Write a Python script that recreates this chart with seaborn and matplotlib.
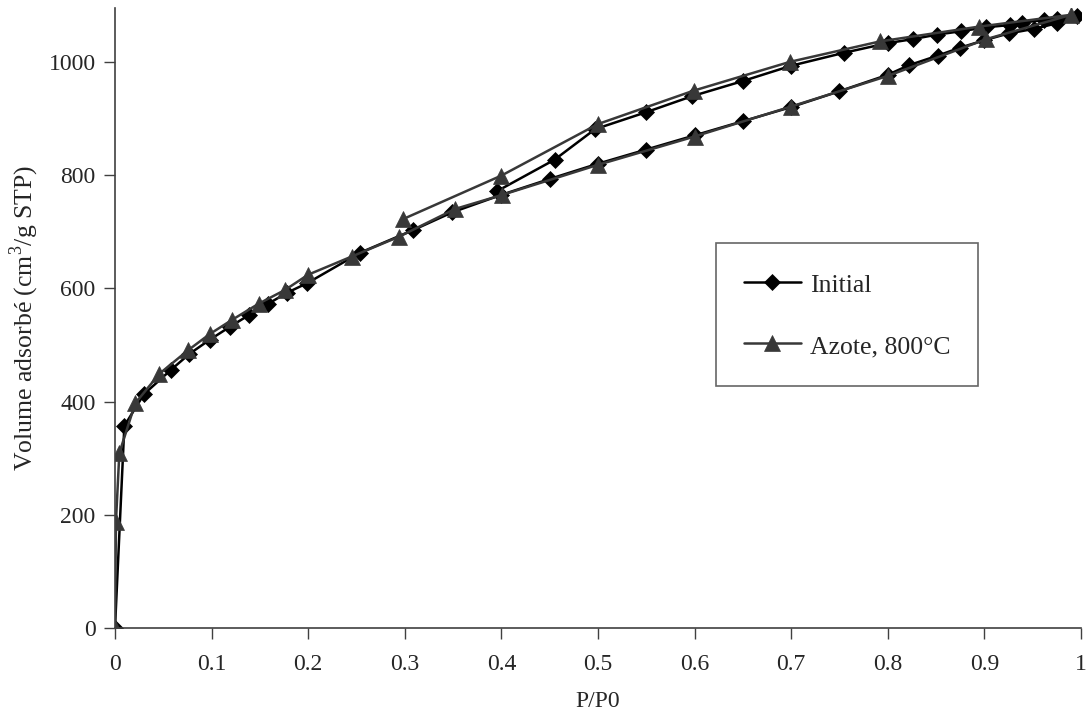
import numpy as np
import pandas as pd
import matplotlib
matplotlib.use('Agg')
import matplotlib.pyplot as plt
import seaborn as sns

# Initial sample: adsorption branch then desorption branch
init_p = [0.0, 0.0097, 0.030, 0.058, 0.077, 0.098, 0.119, 0.139, 0.158, 0.178,
          0.199, 0.254, 0.309, 0.349, 0.400, 0.450, 0.500, 0.550, 0.600, 0.650,
          0.700, 0.750, 0.800, 0.822, 0.852, 0.875, 0.900, 0.925, 0.951, 0.975,
          0.996,
          0.975, 0.962, 0.939, 0.927, 0.902, 0.876, 0.851, 0.826, 0.800, 0.755,
          0.700, 0.650, 0.597, 0.550, 0.497, 0.455, 0.395]
init_v = [0, 357, 413, 456, 484, 509, 532, 553, 572, 592,
          609, 663, 703, 734, 765, 793, 820, 845, 870, 895,
          920, 948, 977, 994, 1011, 1025, 1038, 1050, 1058, 1068,
          1080,
          1076, 1074, 1069, 1065, 1061, 1054, 1048, 1040, 1033, 1016,
          993, 966, 939, 911, 881, 827, 771]

# Azote, 800°C
azote_p = [0.0, 0.001, 0.0045, 0.021, 0.046, 0.076, 0.098, 0.121, 0.149, 0.176,
           0.200, 0.245, 0.294, 0.352, 0.401, 0.500, 0.600, 0.700, 0.800, 0.902,
           0.990,
           0.894, 0.792, 0.699, 0.599, 0.500, 0.400, 0.298]
azote_v = [0, 188, 309, 397, 449, 491, 519, 544, 573, 597,
           624, 656, 691, 740, 765, 818, 868, 921, 975, 1040,
           1083,
           1062, 1036, 1000, 949, 890, 799, 722]

x_ticks = [0, 0.1, 0.2, 0.3, 0.4, 0.5, 0.6, 0.7, 0.8, 0.9, 1]
x_tick_labels = ['0', '0.1', '0.2', '0.3', '0.4', '0.5', '0.6', '0.7', '0.8', '0.9', '1']
y_ticks = [0, 200, 400, 600, 800, 1000]

sns.set_style('ticks')
plt.rcParams['font.family'] = ['Liberation Serif', 'DejaVu Serif']
plt.rcParams['mathtext.fontset'] = 'custom'
plt.rcParams['mathtext.rm'] = 'Liberation Serif'

fig = plt.figure(figsize=(10.91, 7.26), dpi=100)
ax = fig.add_axes([0.1054, 0.135, 0.8854, 0.854])

sns.lineplot(x=init_p, y=init_v, sort=False, estimator=None, ax=ax,
             color='black', lw=1.8, marker='D', markersize=8.5,
             markeredgewidth=0.5, markeredgecolor='black', label='Initial')
sns.lineplot(x=azote_p, y=azote_v, sort=False, estimator=None, ax=ax,
             color='#383838', lw=1.8, marker='^', markersize=11,
             markeredgewidth=0.5, markeredgecolor='#383838', label='Azote, 800°C')

ax.set_xlim(0, 1)
ax.set_ylim(0, 1095)
ax.set_xticks(x_ticks)
ax.set_xticklabels(x_tick_labels)
ax.set_yticks(y_ticks)
ax.tick_params(axis='both', labelsize=17, length=8, width=1, color='#404040',
               direction='out')
ax.tick_params(axis='x', pad=11)
ax.tick_params(axis='y', pad=6)
for s in ['top', 'right']:
    ax.spines[s].set_visible(False)
for s in ['left', 'bottom']:
    ax.spines[s].set_color('#404040')
    ax.spines[s].set_linewidth(1.2)

ax.set_xlabel('P/P0', fontsize=17, labelpad=11)
ax.set_ylabel('Volume adsorbé (cm$^3$/g STP)', fontsize=18.5, labelpad=5)

leg = ax.legend(loc='upper left', bbox_to_anchor=(0.622, 0.621), fontsize=18.5,
                frameon=True, fancybox=False, edgecolor='#404040',
                handlelength=2.2, handleheight=1.1, handletextpad=0.35,
                labelspacing=1.35, borderpad=1.1, borderaxespad=0)
leg.get_frame().set_linewidth(1.2)

fig.savefig('out.png', dpi=100)
